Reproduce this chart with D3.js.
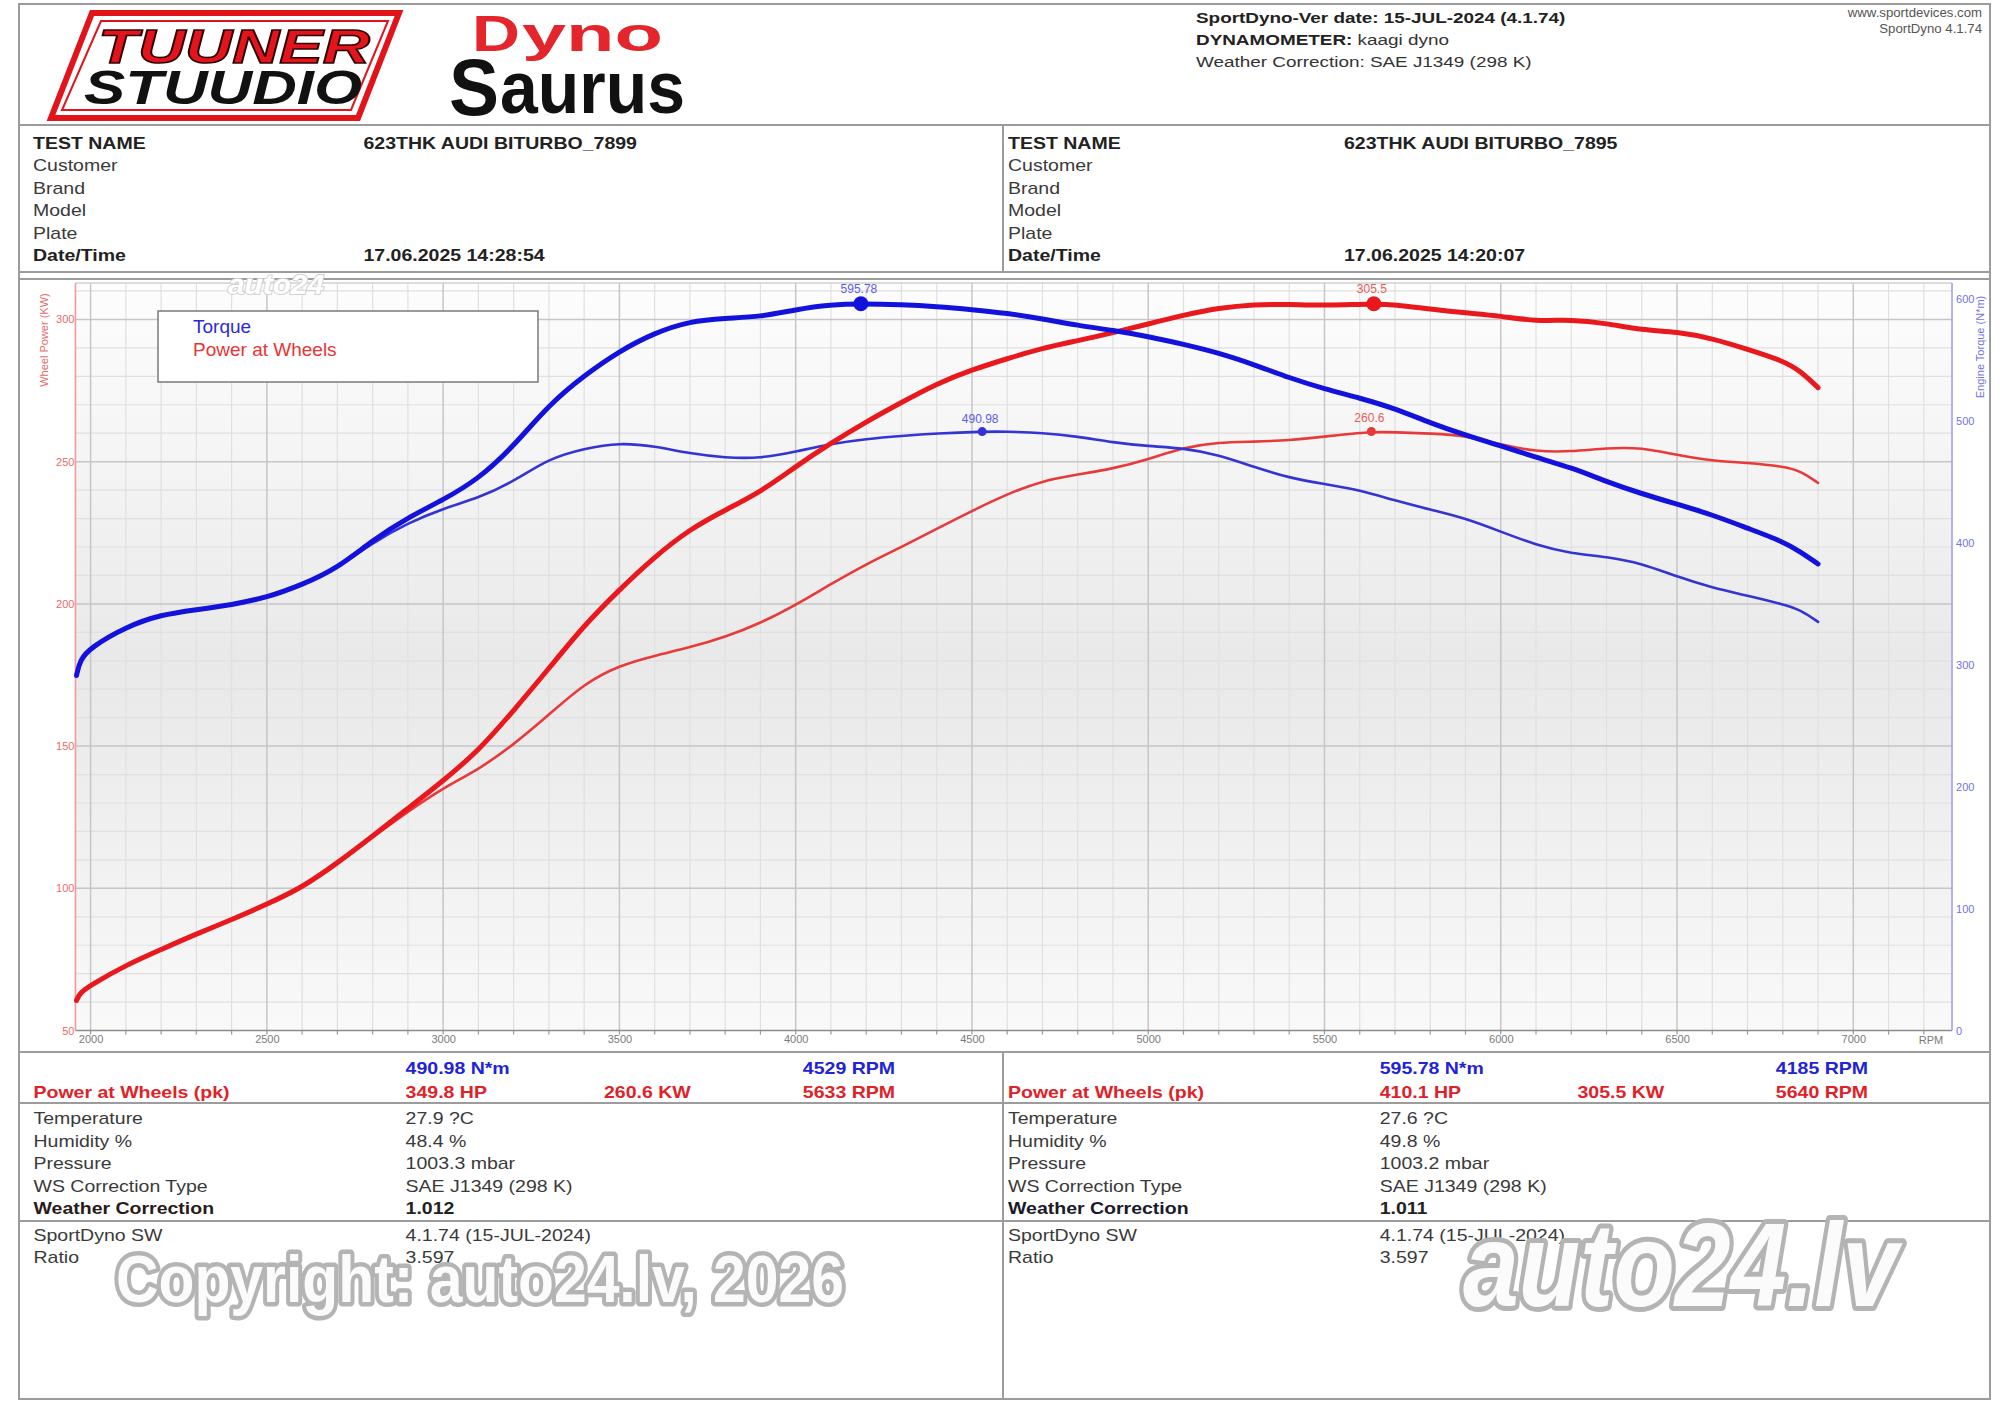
<!DOCTYPE html>
<html><head><meta charset="utf-8">
<script src="https://cdn.jsdelivr.net/npm/d3@7"></script>
<style>
body{margin:0;background:#fff}
svg{display:block}
text{font-family:"Liberation Sans",Arial,Helvetica,sans-serif}
</style>
</head><body>
<svg id="c" width="2000" height="1412"></svg>
<script>
// ---------------- DATA ----------------
// Run 7895 (thick curves)
const torqueRpm95 = [1960,1970,2000,2100,2200,2300,2400,2500,2600,2700,2800,2900,3000,3100,3200,3300,3400,3500,3600,3700,3800,3900,4000,4100,4185,4300,4400,4500,4600,4700,4800,4900,5000,5100,5200,5300,5400,5500,5600,5700,5800,5900,6000,6100,6200,6300,6400,6500,6600,6700,6800,6850,6900];
const torqueNm95  = [291,304,314,331,341,345,349,355,365.5,379,402,420.5,435,452,479,513,537,557,572,581.5,584,585,591,595,595.78,595,593.5,591,588,583.5,578,574,569,562.6,555.5,546,535,526,518.5,510,498,488,479.4,469.8,461.5,450,440,431.5,422.8,411.8,401,392.5,382.5];
const powerRpm95  = [1960,1970,2000,2100,2200,2300,2400,2500,2600,2700,2800,2900,3000,3100,3200,3300,3400,3500,3600,3700,3800,3900,4000,4100,4200,4300,4400,4500,4600,4700,4800,4900,5000,5100,5200,5300,5400,5500,5640,5700,5800,5900,6000,6100,6200,6300,6400,6500,6600,6700,6800,6850,6900];
const powerKw95   = [60.6,63.3,66,73,78.5,84,89,94.4,100.3,108.9,118.4,128.1,137.8,148.3,162.5,177.3,192.5,205,216.6,226.3,233,239.3,248.3,256.5,264,270.8,277.4,282.3,286.2,289.9,292.5,295.3,298.4,301.5,304,305.3,305.3,304.9,305.5,305.2,303.6,302.3,301.2,299.3,300,298.6,296.2,295.7,293.3,289.5,285.5,281.9,276];
// Run 7899 (thin curves)
const torqueRpm99 = [1960,1970,2000,2100,2200,2300,2400,2500,2600,2700,2800,2900,3000,3100,3200,3300,3400,3500,3600,3700,3800,3900,4000,4100,4200,4300,4400,4529,4600,4700,4800,4900,5000,5100,5200,5300,5400,5500,5600,5700,5800,5900,6000,6100,6200,6300,6400,6500,6600,6700,6800,6850,6900];
const torqueNm99  = [291,304,314,331,341,345,349,355,365.5,379,400,416,428,436.5,450,469,477,482,479,473,469.5,469,474.5,481,485,487.5,489.5,490.98,491,490,487,482,479,477.5,472,462,453,448,443,434.5,427,420,409,398,391,388.5,383,372,363,356.5,349.5,345,335];
const powerRpm99  = [1960,1970,2000,2100,2200,2300,2400,2500,2600,2700,2800,2900,3000,3100,3200,3300,3400,3500,3600,3700,3800,3900,4000,4100,4200,4300,4400,4500,4600,4700,4800,4900,5000,5100,5200,5300,5400,5500,5633,5700,5800,5900,6000,6100,6200,6300,6400,6500,6600,6700,6800,6850,6900];
const powerKw99   = [60.6,63.3,66,73,78.5,84,89,94.4,100.3,108.9,118,127,135.3,141.7,150.5,161,172,178.4,181.8,184.7,188.3,193.2,199.6,207,214,220,226.4,232.7,238.6,243.3,245.5,247.5,250.8,255,256.8,257,257.5,258.8,260.6,260.3,259.9,259.2,256,253.5,253.5,254.8,255,252.3,250.3,249.6,248.3,246.8,242.5];

// Peaks
const peaks = [
  {label:"595.78", rpm:4185, value:595.78, axis:"torque", thick:true},
  {label:"305.5",  rpm:5640, value:305.5,  axis:"power",  thick:true},
  {label:"490.98", rpm:4529, value:490.98, axis:"torque", thick:false},
  {label:"260.6",  rpm:5633, value:260.6,  axis:"power",  thick:false}
];

// Axis ticks
const rpmTicks    = [2000,2500,3000,3500,4000,4500,5000,5500,6000,6500,7000];
const powerTicks  = [50,100,150,200,250,300];
const torqueTicks = [0,100,200,300,400,500,600];

// Table texts
const infoLabels = ["TEST NAME","Customer","Brand","Model","Plate","Date/Time"];
const infoLeft   = ["623THK AUDI BITURBO_7899","","","","","17.06.2025 14:28:54"];
const infoRight  = ["623THK AUDI BITURBO_7895","","","","","17.06.2025 14:20:07"];
const condLabels = ["Temperature","Humidity %","Pressure","WS Correction Type","Weather Correction"];
const condLeft   = ["27.9 ?C","48.4 %","1003.3 mbar","SAE J1349 (298 K)","1.012"];
const condRight  = ["27.6 ?C","49.8 %","1003.2 mbar","SAE J1349 (298 K)","1.011"];
const swLabels   = ["SportDyno SW","Ratio"];
const swValues   = ["4.1.74 (15-JUL-2024)","3.597"];
const peakLeft   = {nm:"490.98 N*m", nmRpm:"4529 RPM", hp:"349.8 HP", kw:"260.6 KW", kwRpm:"5633 RPM"};
const peakRight  = {nm:"595.78 N*m", nmRpm:"4185 RPM", hp:"410.1 HP", kw:"305.5 KW", kwRpm:"5640 RPM"};

// ---------------- DRAW ----------------
const svg = d3.select("#c");
const FONT = '"Liberation Sans", Arial, Helvetica, sans-serif';
const BLUE = "#1212dc", RED = "#e8181c", BLUE_T = "#3434d4", RED_T = "#e83a3a";

function txt(g, x, y, s, o = {}) {
  return g.append("text")
    .attr("transform", `translate(${x},${y}) scale(${o.sx ?? 1.22},1)`)
    .attr("font-size", o.size ?? 16)
    .attr("font-weight", o.bold ? "bold" : "normal")
    .attr("font-style", o.italic ? "italic" : "normal")
    .attr("fill", o.fill ?? "#333")
    .attr("text-anchor", o.anchor ?? "start")
    .text(s);
}

svg.append("rect").attr("width",2000).attr("height",1412).attr("fill","#fff");

// defs
const defs = svg.append("defs");
const grad = defs.append("linearGradient").attr("id","bg").attr("x1",0).attr("x2",0).attr("y1",0).attr("y2",1);
[[0,"#fdfdfd"],[0.25,"#f4f4f4"],[0.5,"#e9e9e9"],[0.63,"#ececec"],[1,"#f9f9f9"]]
  .forEach(([o,c]) => grad.append("stop").attr("offset",o).attr("stop-color",c));

// scales
const x  = d3.scaleLinear().domain([2000, 7000]).range([90.6, 1853.3]);
const yP = d3.scaleLinear().domain([50, 300]).range([1030.6, 319.4]);
const yT = d3.scaleLinear().domain([0, 600]).range([1030.6, 298.6]);
const xL = x(1957), xR = x(7280);
const yTop = 283, yBot = yP(50);

// frame + section lines
const frame = svg.append("g").attr("stroke","#9c9c9c").attr("fill","none");
frame.append("rect").attr("x",19).attr("y",4).attr("width",1971).attr("height",1395).attr("stroke-width",2);
[125,272,279,1052,1103,1221].forEach(yy =>
  frame.append("line").attr("x1",19).attr("x2",1990).attr("y1",yy).attr("y2",yy).attr("stroke-width",2));
frame.append("line").attr("x1",1003).attr("x2",1003).attr("y1",125).attr("y2",272).attr("stroke-width",2);
frame.append("line").attr("x1",1003).attr("x2",1003).attr("y1",1052).attr("y2",1399).attr("stroke-width",2);

// ---------- header: logos ----------
const logo = svg.append("g");
logo.append("path").attr("d","M92,13 L399,13 L358,118 L51,118 Z")
  .attr("fill","none").attr("stroke","#e1141c").attr("stroke-width",6);
logo.append("path").attr("d","M101,21 L388,21 L351,110 L62,110 Z")
  .attr("fill","none").attr("stroke","#e1141c").attr("stroke-width",2);
logo.append("text").attr("x",98).attr("y",63).attr("font-size",48).attr("font-weight","bold")
  .attr("font-style","italic").attr("textLength",272).attr("lengthAdjust","spacingAndGlyphs")
  .attr("fill","#e3141b").attr("stroke","#2a0000").attr("stroke-width",1.5).text("TUUNER");
logo.append("text").attr("x",84).attr("y",104).attr("font-size",48).attr("font-weight","bold")
  .attr("font-style","italic").attr("textLength",278).attr("lengthAdjust","spacingAndGlyphs")
  .attr("fill","#111").text("STUUDIO");

logo.append("text").attr("x",472).attr("y",51).attr("font-size",50).attr("font-weight","bold")
  .attr("textLength",48).attr("lengthAdjust","spacingAndGlyphs").attr("fill","#e3262b").text("D");
logo.append("text").attr("x",522).attr("y",51).attr("font-size",48).attr("font-weight","bold")
  .attr("textLength",141).attr("lengthAdjust","spacingAndGlyphs").attr("fill","#e3262b").text("yno");
logo.append("text").attr("x",449).attr("y",115).attr("font-size",80).attr("font-weight","bold")
  .attr("textLength",50).attr("lengthAdjust","spacingAndGlyphs").attr("fill","#111").text("S");
logo.append("text").attr("x",500).attr("y",113).attr("font-size",75).attr("font-weight","bold")
  .attr("textLength",185).attr("lengthAdjust","spacingAndGlyphs").attr("fill","#111").text("aurus");

// ---------- header right ----------
const hr = svg.append("g");
txt(hr,1196,23,"SportDyno-Ver date: 15-JUL-2024 (4.1.74)",{bold:true,fill:"#222",size:15.5});
const t2 = hr.append("text").attr("transform","translate(1196,45) scale(1.22,1)").attr("font-size",15.5).attr("fill","#333");
t2.append("tspan").attr("font-weight","bold").attr("fill","#222").text("DYNAMOMETER:");
t2.append("tspan").text(" kaagi dyno");
txt(hr,1196,67,"Weather Correction: SAE J1349 (298 K)",{size:15.5});
txt(hr,1982,17,"www.sportdevices.com",{size:12,anchor:"end",fill:"#555",sx:1.1});
txt(hr,1982,33,"SportDyno 4.1.74",{size:12,anchor:"end",fill:"#555",sx:1.1});

// ---------- info rows ----------
const info = svg.append("g");
infoLabels.forEach((lab,i) => {
  const yy = 149 + i*22.4;
  const bold = (i===0 || i===5);
  txt(info,33,yy,lab,{bold,fill:bold?"#222":"#3a3a3a"});
  txt(info,1008,yy,lab,{bold,fill:bold?"#222":"#3a3a3a"});
  if (infoLeft[i])  txt(info,363.5,yy,infoLeft[i],{bold:true,fill:"#222"});
  if (infoRight[i]) txt(info,1344,yy,infoRight[i],{bold:true,fill:"#222"});
});

// ---------- plot ----------
const plot = svg.append("g");
plot.append("rect").attr("x",xL).attr("y",yTop).attr("width",xR-xL).attr("height",yBot-yTop).attr("fill","url(#bg)");

const grid = plot.append("g");
d3.range(2000,7201,100).filter(v => v%500!==0).forEach(v =>
  grid.append("line").attr("x1",x(v)).attr("x2",x(v)).attr("y1",yTop).attr("y2",yBot).attr("stroke","#e0e0e0").attr("stroke-width",1.2));
d3.range(60,311,10).filter(v => v%50!==0).forEach(v =>
  grid.append("line").attr("x1",xL).attr("x2",xR).attr("y1",yP(v)).attr("y2",yP(v)).attr("stroke","#e0e0e0").attr("stroke-width",1.2));
rpmTicks.forEach(v =>
  grid.append("line").attr("x1",x(v)).attr("x2",x(v)).attr("y1",yTop).attr("y2",yBot).attr("stroke","#c6c6c6").attr("stroke-width",1.5));
powerTicks.filter(v => v>50).forEach(v =>
  grid.append("line").attr("x1",xL).attr("x2",xR).attr("y1",yP(v)).attr("y2",yP(v)).attr("stroke","#c6c6c6").attr("stroke-width",1.5));

plot.append("line").attr("x1",xL).attr("x2",xR).attr("y1",yTop).attr("y2",yTop).attr("stroke","#d0d0d0").attr("stroke-width",1.5);

// x axis
const gx = plot.append("g").attr("transform",`translate(0,${yBot})`)
  .call(d3.axisBottom(x).tickValues(rpmTicks).tickSize(0).tickPadding(5).tickFormat(d3.format("d")));
gx.select(".domain").remove();
gx.selectAll("text").attr("font-size",11).attr("fill","#7a7a7a").attr("font-family",FONT);
d3.range(2000,7201,100).forEach(v =>
  plot.append("line").attr("x1",x(v)).attr("x2",x(v)).attr("y1",yBot).attr("y2",yBot+4).attr("stroke","#9a9a9a").attr("stroke-width",1.2));
plot.append("line").attr("x1",xL).attr("x2",xR).attr("y1",yBot).attr("y2",yBot).attr("stroke","#8c8c8c").attr("stroke-width",1.5);
plot.append("text").attr("x",1931).attr("y",yBot+13).attr("font-size",11).attr("fill","#7a7a7a").attr("text-anchor","middle").text("RPM");

// left axis (power)
const gl = plot.append("g").attr("transform",`translate(${xL},0)`)
  .call(d3.axisLeft(yP).tickValues(powerTicks).tickSize(0).tickPadding(1));
gl.select(".domain").remove();
gl.selectAll("text").attr("font-size",11).attr("fill","#e86a6a").attr("font-family",FONT);
plot.append("line").attr("x1",xL).attr("x2",xL).attr("y1",yTop).attr("y2",yBot).attr("stroke","#f09a9a").attr("stroke-width",1.6);
plot.append("text").attr("transform",`translate(48,340) rotate(-90)`).attr("font-size",11).attr("fill","#e86a6a")
  .attr("text-anchor","middle").text("Wheel Power (KW)");

// right axis (torque)
const gr = plot.append("g").attr("transform",`translate(${xR},0)`)
  .call(d3.axisRight(yT).tickValues(torqueTicks).tickSize(0).tickPadding(4));
gr.select(".domain").remove();
gr.selectAll("text").attr("font-size",11).attr("fill","#7272e8").attr("font-family",FONT);
plot.append("line").attr("x1",xR).attr("x2",xR).attr("y1",yTop).attr("y2",yBot).attr("stroke","#a2a2f2").attr("stroke-width",1.6);
plot.append("text").attr("transform",`translate(1984,347) rotate(-90)`).attr("font-size",11).attr("fill","#7272e8")
  .attr("text-anchor","middle").text("Engine Torque (N*m)");

// curves
const lineGen = (ys) => d3.line().x(d => x(d[0])).y(d => ys(d[1])).curve(d3.curveBasis);
const curves = plot.append("g").attr("fill","none").attr("stroke-linecap","round").attr("stroke-linejoin","round");
curves.append("path").datum(d3.zip(powerRpm99, powerKw99)).attr("d", lineGen(yP)).attr("stroke",RED_T).attr("stroke-width",2.6);
curves.append("path").datum(d3.zip(torqueRpm99, torqueNm99)).attr("d", lineGen(yT)).attr("stroke",BLUE_T).attr("stroke-width",2.6);
curves.append("path").datum(d3.zip(powerRpm95, powerKw95)).attr("d", lineGen(yP)).attr("stroke",RED).attr("stroke-width",5);
curves.append("path").datum(d3.zip(torqueRpm95, torqueNm95)).attr("d", lineGen(yT)).attr("stroke",BLUE).attr("stroke-width",5);

// peak markers
const pk = plot.append("g");
peaks.forEach(p => {
  const cx = x(p.rpm), cy = (p.axis==="torque" ? yT : yP)(p.value);
  const col = p.axis==="torque" ? (p.thick?BLUE:BLUE_T) : (p.thick?RED:RED_T);
  const lc  = p.axis==="torque" ? "#5c5ce4" : "#ea5a5a";
  pk.append("circle").attr("cx",cx).attr("cy",cy).attr("r",p.thick?7.5:4.5).attr("fill",col);
  pk.append("text").attr("x",cx-2).attr("y",cy-(p.thick?11:9)).attr("font-size",12).attr("fill",lc)
    .attr("text-anchor","middle").text(p.label);
});

// legend
const lg = plot.append("g");
lg.append("rect").attr("x",158).attr("y",311).attr("width",380).attr("height",71).attr("fill","#fff").attr("stroke","#828282").attr("stroke-width",1.6);
lg.append("text").attr("x",193).attr("y",333).attr("font-size",19).attr("fill","#2a2ad8").text("Torque");
lg.append("text").attr("x",193).attr("y",356).attr("font-size",19).attr("fill","#e83434").text("Power at Wheels");

// small watermark in chart
plot.append("text").attr("x",228).attr("y",294).attr("font-size",28).attr("font-weight","bold").attr("font-style","italic")
  .attr("textLength",96).attr("lengthAdjust","spacingAndGlyphs")
  .attr("fill","#ffffff").attr("stroke","#d2d2d2").attr("stroke-width",2).attr("paint-order","stroke").text("auto24");

// ---------- bottom table ----------
const tb = svg.append("g");
function peakRows(p, xl, xv, xkw, xr) {
  txt(tb,xv,1074,p.nm,{bold:true,fill:"#2222d8"});
  txt(tb,xr,1074,p.nmRpm,{bold:true,fill:"#2222d8",anchor:"end"});
  txt(tb,xl,1098,"Power at Wheels (pk)",{bold:true,fill:"#e02228"});
  txt(tb,xv,1098,p.hp,{bold:true,fill:"#e02228"});
  txt(tb,xkw,1098,p.kw,{bold:true,fill:"#e02228"});
  txt(tb,xr,1098,p.kwRpm,{bold:true,fill:"#e02228",anchor:"end"});
}
peakRows(peakLeft, 33.5, 405.6, 604, 895);
peakRows(peakRight, 1008, 1379.7, 1577.5, 1868);

condLabels.forEach((lab,i) => {
  const yy = 1124 + i*22.6;
  const bold = i===4;
  txt(tb,33.5,yy,lab,{bold,fill:bold?"#2a1a1a":"#3a3a3a"});
  txt(tb,1008,yy,lab,{bold,fill:bold?"#1a1a2a":"#3a3a3a"});
  txt(tb,405.6,yy,condLeft[i],{bold,fill:bold?"#222":"#3a3a3a"});
  txt(tb,1379.7,yy,condRight[i],{bold,fill:bold?"#222":"#3a3a3a"});
});
swLabels.forEach((lab,i) => {
  const yy = 1241 + i*22.4;
  txt(tb,33.5,yy,lab,{fill:"#3a3a3a"});
  txt(tb,1008,yy,lab,{fill:"#3a3a3a"});
  txt(tb,405.6,yy,swValues[i],{fill:"#3a3a3a"});
  txt(tb,1379.7,yy,swValues[i],{fill:"#3a3a3a"});
});

// ---------- watermarks ----------
const wm = svg.append("g").attr("paint-order","stroke").attr("stroke-linejoin","round");
wm.append("text").attr("x",116).attr("y",1302).attr("font-size",66).attr("font-weight","bold")
  .attr("textLength",728).attr("lengthAdjust","spacingAndGlyphs")
  .attr("fill","#fbfbfb").attr("stroke","#b4b4b4").attr("stroke-width",9).text("Copyright: auto24.lv, 2026");
wm.append("text").attr("x",1463).attr("y",1306).attr("font-size",118).attr("font-weight","bold").attr("font-style","italic")
  .attr("textLength",435).attr("lengthAdjust","spacingAndGlyphs")
  .attr("fill","#fbfbfb").attr("stroke","#b4b4b4").attr("stroke-width",10).text("auto24.lv");
</script>
</body></html>
